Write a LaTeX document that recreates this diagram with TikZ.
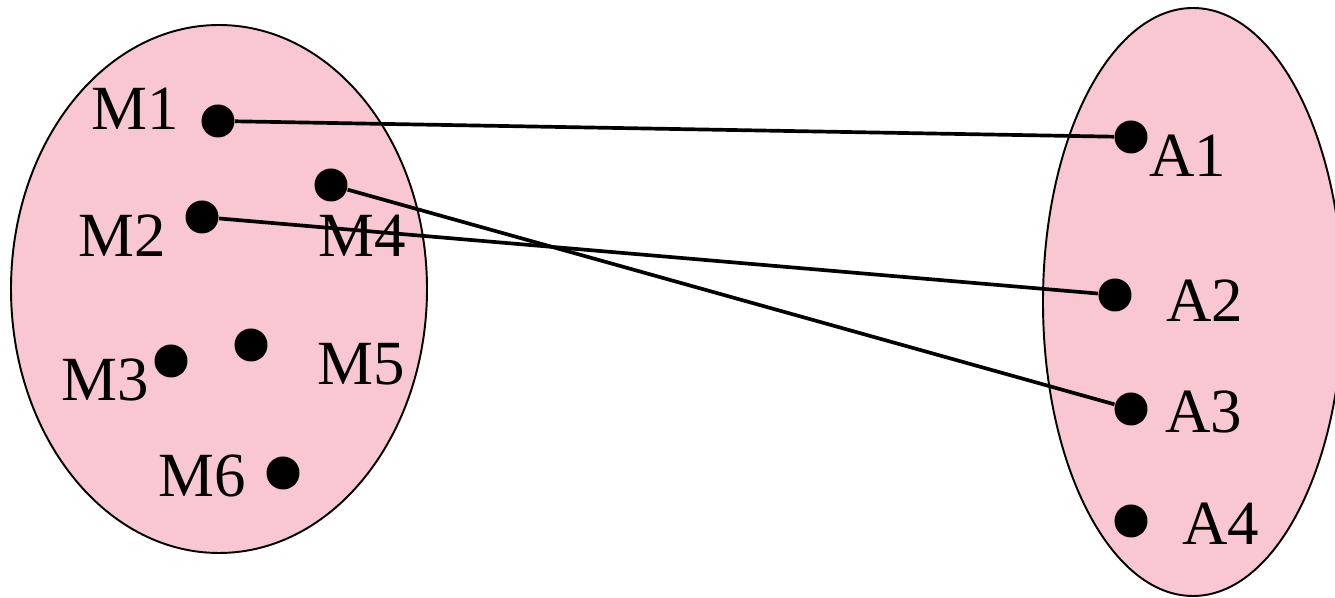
\documentclass[tikz,border=0pt]{standalone}
\usepackage{fontspec}
\setmainfont{Liberation Serif}
\usetikzlibrary{positioning}
\definecolor{setpink}{RGB}{249,199,209}

\begin{document}
\begin{tikzpicture}[
  x=1cm,y=-1cm,
  set/.style={draw,line width=0.55pt,fill=setpink},
  elem/.style={circle,fill=black,minimum size=3.3mm,inner sep=0pt},
  lbl/.style={anchor=base,inner sep=0pt,font=\fontsize{17.9}{20}\selectfont},
  link/.style={line width=1.05pt}
]
\useasboundingbox (0,0) rectangle (13.35,5.98);

% Sets
\draw[set] (2.19,2.89) ellipse [x radius=2.08,y radius=2.64];
\draw[set] (11.93,3.02) ellipse [x radius=1.50,y radius=2.94];

% Left set elements
\node[elem] (m1) at (2.18,1.21) {};
\node[elem] (m2) at (2.02,2.17) {};
\node[elem] (m3) at (1.71,3.61) {};
\node[elem] (m4) at (3.31,1.85) {};
\node[elem] (m5) at (2.51,3.45) {};
\node[elem] (m6) at (2.83,4.73) {};

\node[lbl] (lm1) at (1.355,1.30) {M1};
\node[lbl] (lm2) at (1.22,2.57) {M2};
\node[lbl] (lm3) at (1.05,4.01) {M3};
\node[lbl] (lm4) at (3.62,2.57) {M4};
\node[lbl] (lm5) at (3.61,3.85) {M5};
\node[lbl] (lm6) at (2.02,4.97) {M6};

% Right set elements
\node[elem] (a1) at (11.31,1.37) {};
\node[elem] (a2) at (11.15,2.95) {};
\node[elem] (a3) at (11.31,4.09) {};
\node[elem] (a4) at (11.31,5.21) {};

\node[lbl] (la1) at (11.88,1.77) {A1};
\node[lbl] (la2) at (12.05,3.22) {A2};
\node[lbl] (la3) at (12.04,4.33) {A3};
\node[lbl] (la4) at (12.21,5.45) {A4};

% Mapping
\draw[link] (m1) -- (a1);
\draw[link] (m2) -- (a2);
\draw[link] (m4) -- (a3);

\end{tikzpicture}
\end{document}
